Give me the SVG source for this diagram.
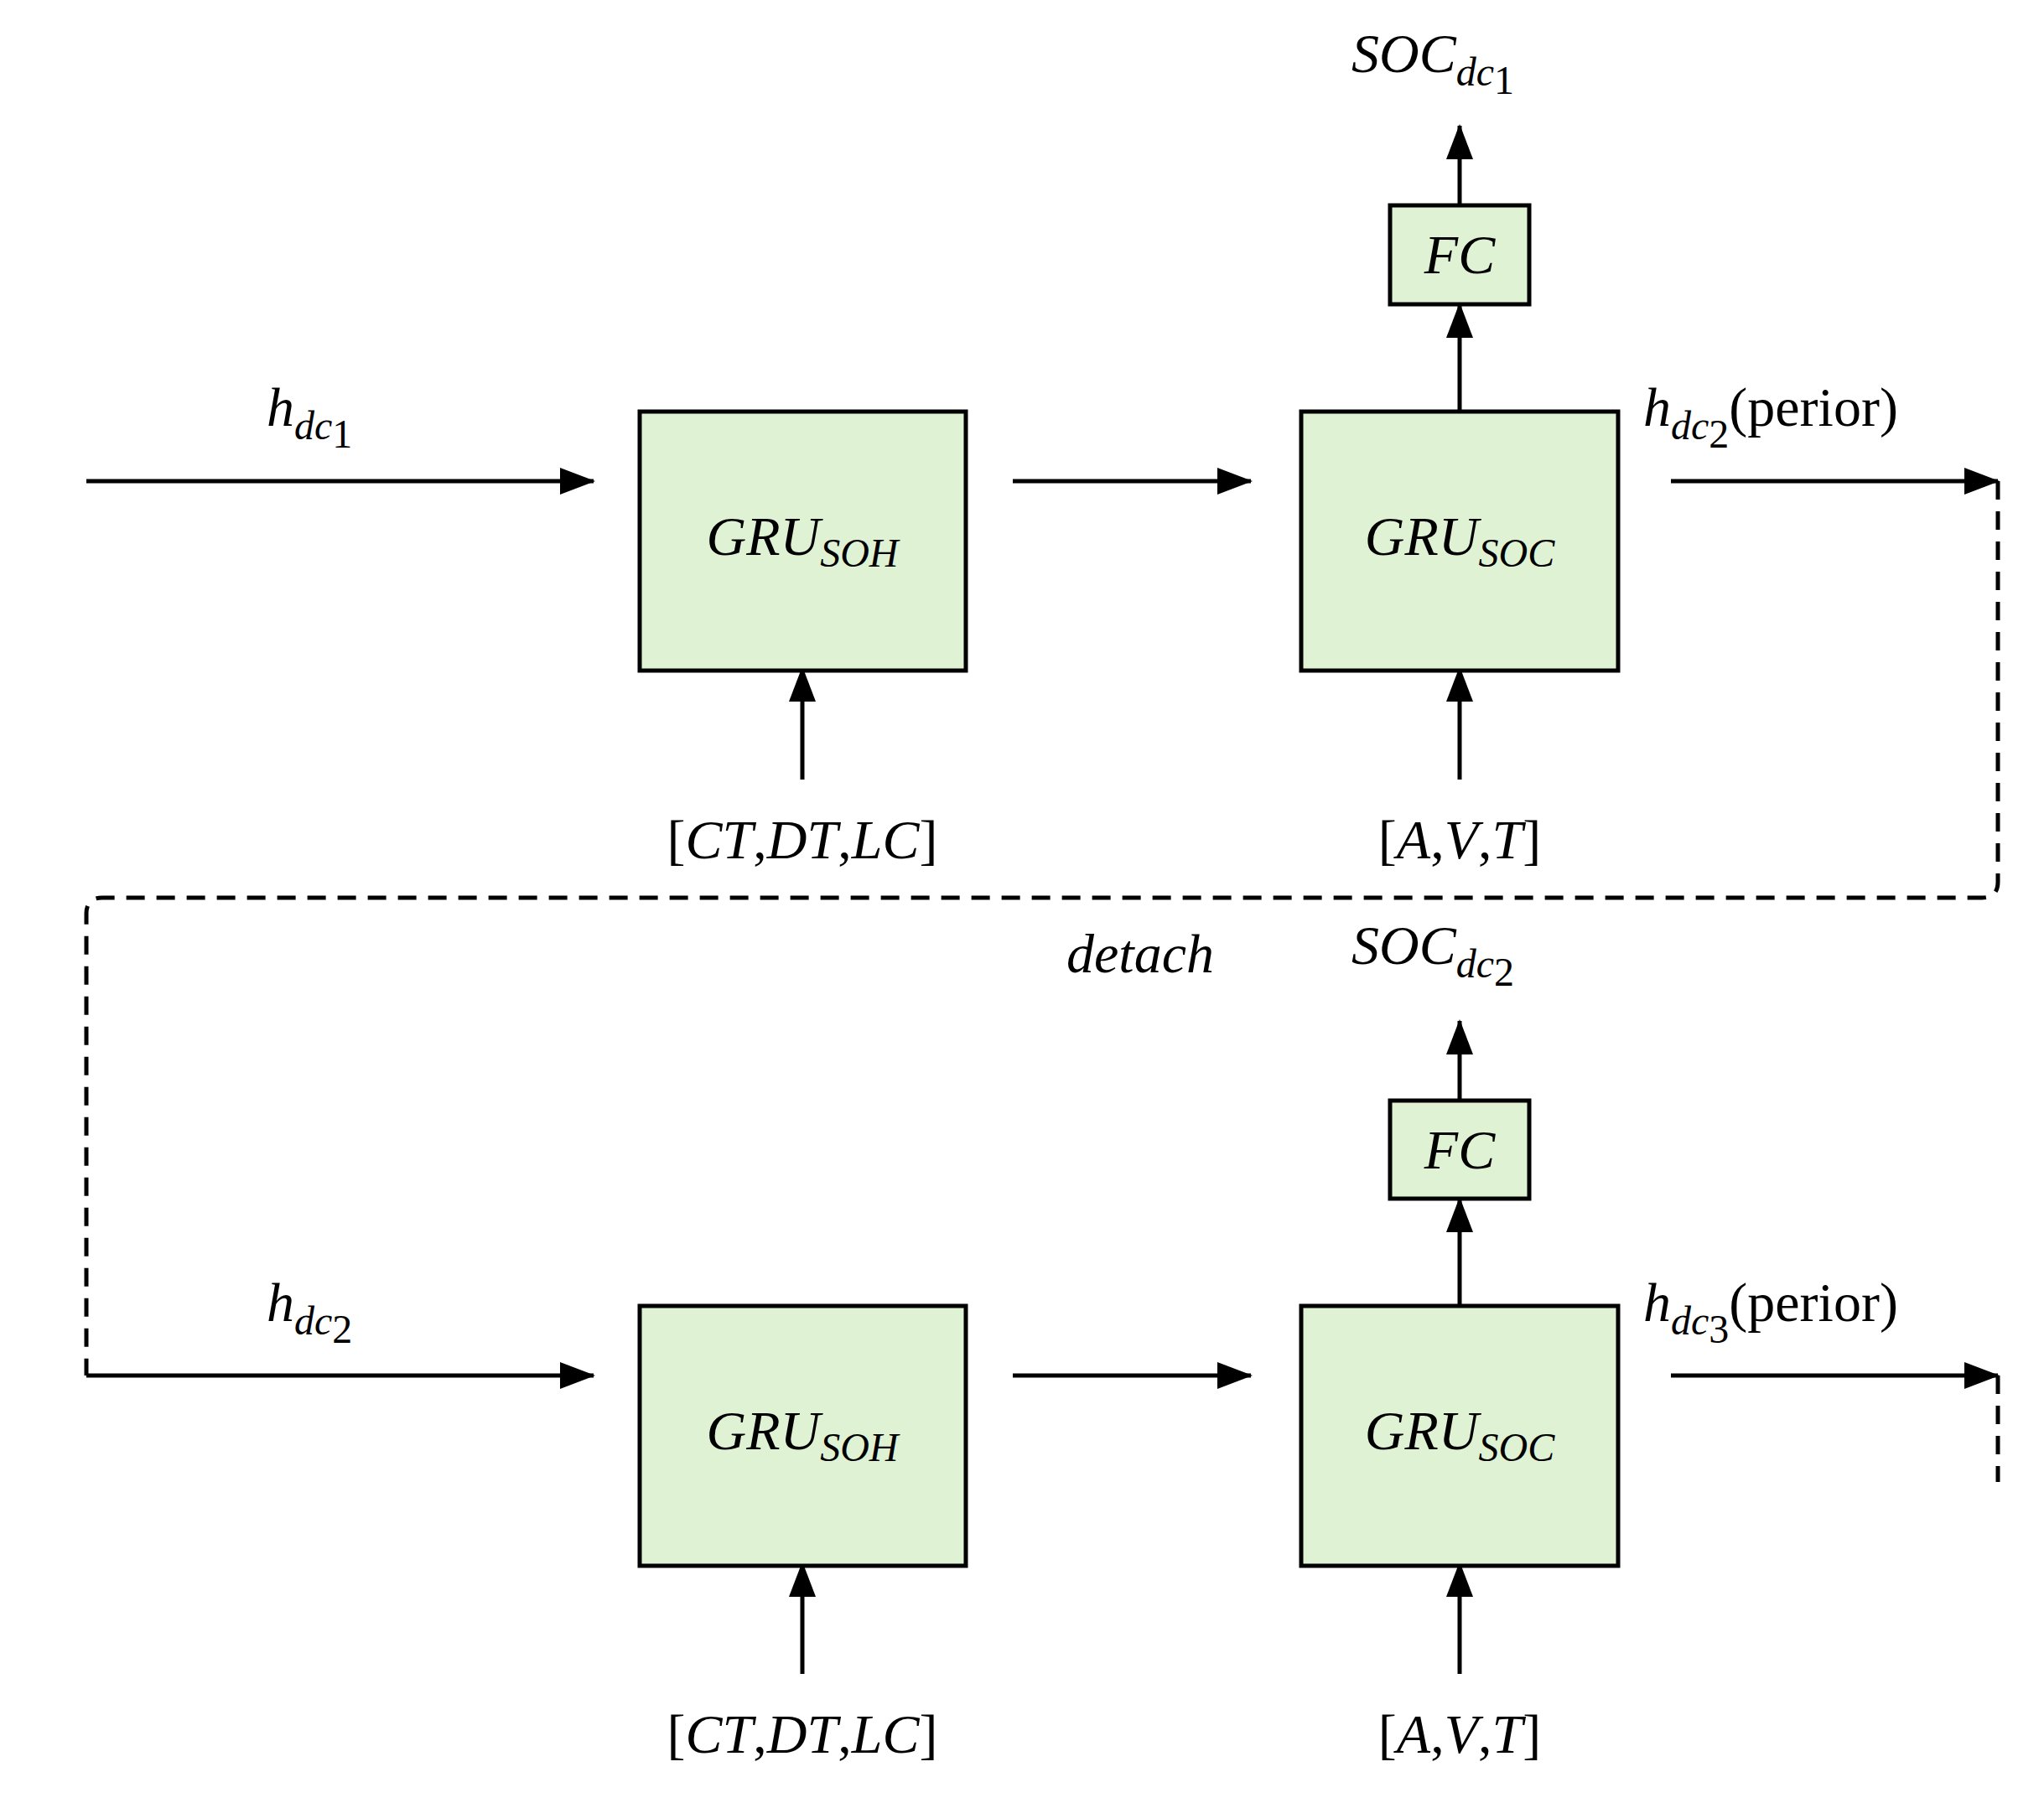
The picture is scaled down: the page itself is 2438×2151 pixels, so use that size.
<svg xmlns="http://www.w3.org/2000/svg" width="2438" height="2151" viewBox="0 0 2438 2151">
<style>
.box{fill:#dff3d4;stroke:#000;stroke-width:5}
.ln{fill:none;stroke:#000;stroke-width:5}
.dash{fill:none;stroke:#000;stroke-width:5;stroke-dasharray:22,14}
.t{font-family:"Liberation Serif",serif;font-style:italic;font-size:66px;fill:#000}
.s{font-size:48px}
.n{font-style:normal}
</style>
<defs>
<marker id="ah" markerUnits="userSpaceOnUse" markerWidth="42" markerHeight="32" refX="40" refY="16" orient="auto">
<path d="M0,0 L42,16 L0,32 Z" fill="#000"/>
</marker>
</defs>
<rect width="2438" height="2151" fill="#fff"/>
<g id="connectors">
<line class="ln" x1="103" y1="574" x2="708" y2="574" marker-end="url(#ah)"/>
<line class="ln" x1="1208" y1="574" x2="1492" y2="574" marker-end="url(#ah)"/>
<line class="ln" x1="1993" y1="574" x2="2383" y2="574" marker-end="url(#ah)"/>
<line class="ln" x1="957" y1="930" x2="957" y2="797" marker-end="url(#ah)"/>
<line class="ln" x1="1741" y1="930" x2="1741" y2="797" marker-end="url(#ah)"/>
<line class="ln" x1="1741" y1="516" x2="1741" y2="363" marker-end="url(#ah)"/>
<line class="ln" x1="1741" y1="245" x2="1741" y2="150" marker-end="url(#ah)"/>
<path class="dash" d="M2383,574 V1052 Q2383,1071 2364,1071 H122 Q103,1071 103,1090 V1641"/>
<line class="ln" x1="103" y1="1641" x2="708" y2="1641" marker-end="url(#ah)"/>
<line class="ln" x1="1208" y1="1641" x2="1492" y2="1641" marker-end="url(#ah)"/>
<line class="ln" x1="1993" y1="1641" x2="2383" y2="1641" marker-end="url(#ah)"/>
<line class="dash" x1="2383" y1="1641" x2="2383" y2="1768"/>
<line class="ln" x1="957" y1="1997" x2="957" y2="1865" marker-end="url(#ah)"/>
<line class="ln" x1="1741" y1="1997" x2="1741" y2="1865" marker-end="url(#ah)"/>
<line class="ln" x1="1741" y1="1586" x2="1741" y2="1430" marker-end="url(#ah)"/>
<line class="ln" x1="1741" y1="1313" x2="1741" y2="1218" marker-end="url(#ah)"/>
</g>
<g id="gru_soh_1"><rect class="box" x="763" y="491" width="389" height="309"/><text class="t" x="957" y="662" text-anchor="middle">GRU<tspan class="s" dy="14">SOH</tspan></text></g>
<g id="gru_soc_1"><rect class="box" x="1552" y="491" width="378" height="309"/><text class="t" x="1741" y="662" text-anchor="middle">GRU<tspan class="s" dy="14">SOC</tspan></text></g>
<g id="fc_1"><rect class="box" x="1658" y="245" width="166" height="118"/><text class="t" x="1741" y="326" text-anchor="middle">FC</text></g>
<g id="gru_soh_2"><rect class="box" x="763" y="1558" width="389" height="310"/><text class="t" x="957" y="1729" text-anchor="middle">GRU<tspan class="s" dy="14">SOH</tspan></text></g>
<g id="gru_soc_2"><rect class="box" x="1552" y="1558" width="378" height="310"/><text class="t" x="1741" y="1729" text-anchor="middle">GRU<tspan class="s" dy="14">SOC</tspan></text></g>
<g id="fc_2"><rect class="box" x="1658" y="1313" width="166" height="117"/><text class="t" x="1741" y="1394" text-anchor="middle">FC</text></g>
<g id="labels">
<text class="t" x="318" y="508">h<tspan class="s" dy="16">dc</tspan><tspan class="s n" dy="10" font-size="38">1</tspan></text>
<text class="t" x="1960" y="508">h<tspan class="s" dy="16">dc</tspan><tspan class="s n" dy="10" font-size="38">2</tspan><tspan class="n" dy="-26">(perior)</tspan></text>
<text class="t" x="1612" y="86">SOC<tspan class="s" dy="16">dc</tspan><tspan class="s n" dy="10" font-size="38">1</tspan></text>
<text class="t n" x="957" y="1024" text-anchor="middle">[<tspan font-style="italic">CT</tspan>,<tspan font-style="italic">DT</tspan>,<tspan font-style="italic">LC</tspan>]</text>
<text class="t n" x="1741" y="1024" text-anchor="middle">[<tspan font-style="italic">A</tspan>,<tspan font-style="italic">V</tspan>,<tspan font-style="italic">T</tspan>]</text>
<text class="t" x="1272" y="1160">detach</text>
<text class="t" x="1612" y="1150">SOC<tspan class="s" dy="16">dc</tspan><tspan class="s n" dy="10" font-size="38">2</tspan></text>
<text class="t" x="318" y="1576">h<tspan class="s" dy="16">dc</tspan><tspan class="s n" dy="10" font-size="38">2</tspan></text>
<text class="t" x="1960" y="1576">h<tspan class="s" dy="16">dc</tspan><tspan class="s n" dy="10" font-size="38">3</tspan><tspan class="n" dy="-26">(perior)</tspan></text>
<text class="t n" x="957" y="2091" text-anchor="middle">[<tspan font-style="italic">CT</tspan>,<tspan font-style="italic">DT</tspan>,<tspan font-style="italic">LC</tspan>]</text>
<text class="t n" x="1741" y="2091" text-anchor="middle">[<tspan font-style="italic">A</tspan>,<tspan font-style="italic">V</tspan>,<tspan font-style="italic">T</tspan>]</text>
</g>
</svg>
